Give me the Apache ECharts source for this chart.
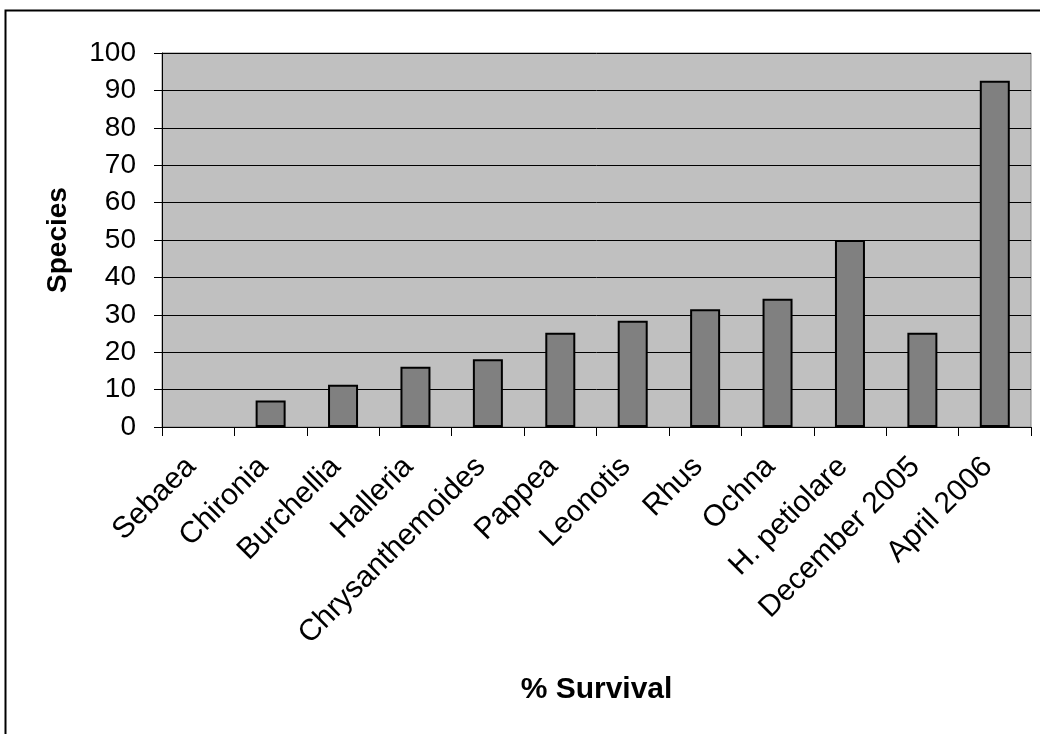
<!DOCTYPE html>
<html>
<head>
<meta charset="utf-8">
<script src="https://cdn.jsdelivr.net/npm/echarts@6/dist/echarts.min.js"></script>
<style>
  html, body { margin: 0; padding: 0; background: #ffffff; }
  #chart { width: 1040px; height: 734px; }
</style>
</head>
<body>
<div id="chart"></div>
<script>
// Survival per species / sampling date
const categories = ['Sebaea', 'Chironia', 'Burchellia', 'Halleria', 'Chrysanthemoides',
  'Pappea', 'Leonotis', 'Rhus', 'Ochna', 'H. petiolare', 'December 2005', 'April 2006'];
const survival = [0, 7.1, 11.3, 16.1, 18.1, 25.2, 28.4, 31.5, 34.3, 50, 25.2, 92.6];
const yTicks = { min: 0, max: 100, interval: 10 };
const xTitle = '% Survival';
const yTitle = 'Species';

const FONT = '"Liberation Sans", Arial, sans-serif';

// zero-height bars get no outline
const barData = survival.map(v => v === 0 ? { value: v, itemStyle: { borderWidth: 0 } } : v);

const chart = echarts.init(document.getElementById('chart'), null, { renderer: 'canvas' });
chart.setOption({
  animation: false,
  backgroundColor: '#ffffff',
  graphic: [{
    type: 'rect',
    left: 3, top: 8,
    shape: { width: 1200, height: 900 },
    style: { fill: 'none', stroke: '#000000', lineWidth: 2 },
    silent: true
  }],
  grid: {
    left: 162, right: 9, top: 53, bottom: 307,
    show: true,
    backgroundColor: '#c0c0c0',
    borderColor: '#808080',
    borderWidth: 1
  },
  xAxis: {
    type: 'category',
    data: categories,
    name: xTitle,
    nameLocation: 'middle',
    nameGap: 248,
    nameTextStyle: { fontFamily: FONT, fontSize: 30, fontWeight: 'bold', color: '#000' },
    axisLine: { lineStyle: { color: '#000', width: 1 } },
    axisTick: { show: true, length: 9, lineStyle: { color: '#000' } },
    axisLabel: {
      rotate: 45, margin: 28, interval: 0,
      padding: [0, 10, 0, 0],
      fontFamily: FONT, fontSize: 30, color: '#000'
    },
    splitLine: { show: false }
  },
  yAxis: {
    type: 'value',
    min: yTicks.min, max: yTicks.max, interval: yTicks.interval,
    name: yTitle,
    nameLocation: 'middle',
    nameGap: 90,
    nameTextStyle: { fontFamily: FONT, fontSize: 28, fontWeight: 'bold', color: '#000' },
    axisLine: { show: true, lineStyle: { color: '#000', width: 1 } },
    axisTick: { show: true, length: 8, lineStyle: { color: '#000' } },
    axisLabel: { margin: 26, fontFamily: FONT, fontSize: 28, color: '#000' },
    splitLine: { show: true, lineStyle: { color: '#000', width: 1 } }
  },
  series: [{
    type: 'bar',
    data: barData,
    barWidth: 30,
    itemStyle: { color: '#808080', borderColor: '#000', borderWidth: 2 }
  }]
});
</script>
</body>
</html>
